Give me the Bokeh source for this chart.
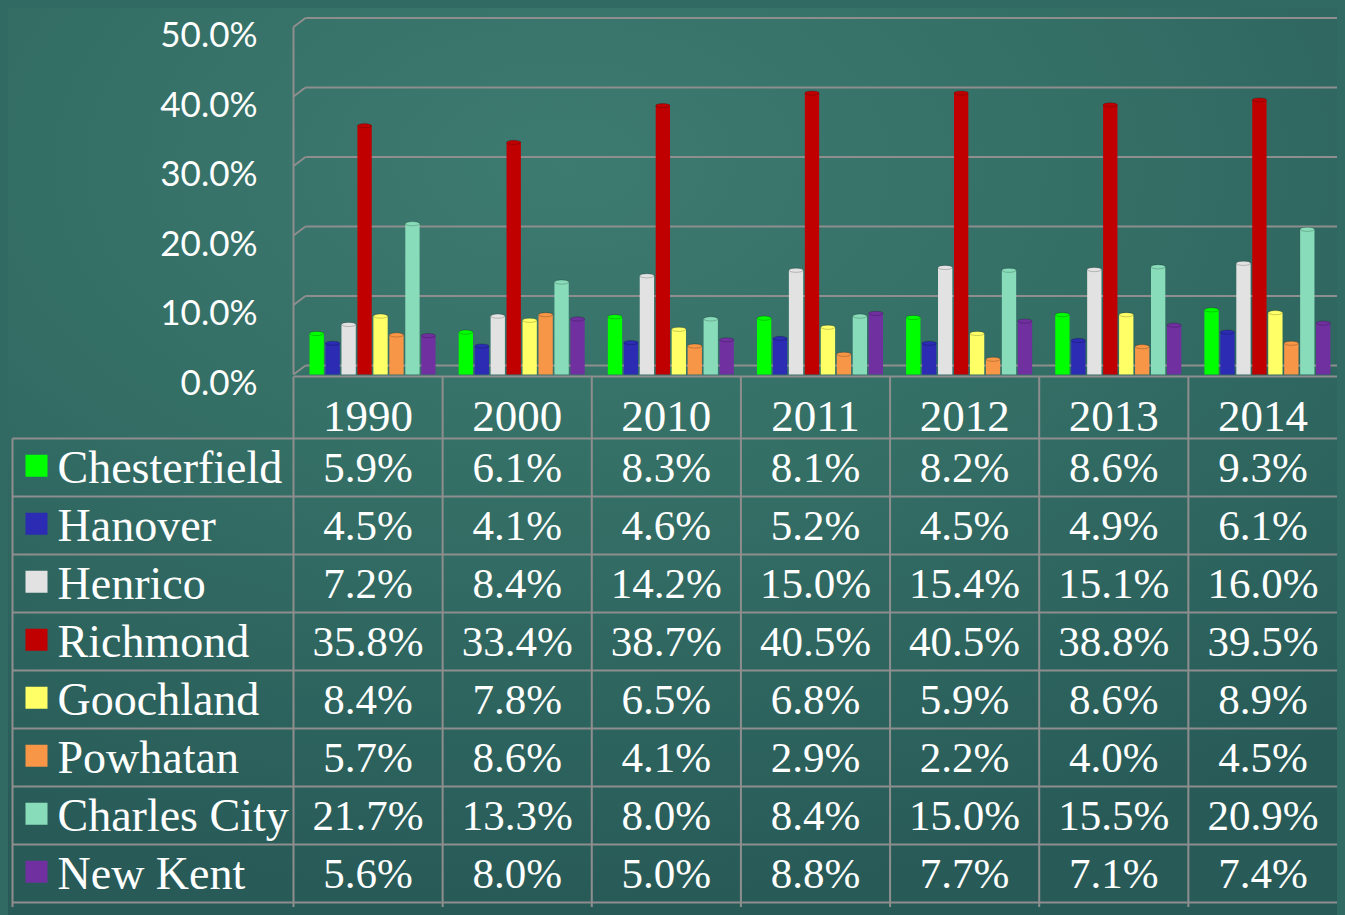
from bokeh.plotting import figure
from bokeh.models import ColumnDataSource, Range1d
from bokeh.transform import dodge
from bokeh.core.properties import value
from bokeh.embed import file_html
from bokeh.resources import INLINE

# ---------------- data ----------------
years = ["1990", "2000", "2010", "2011", "2012", "2013", "2014"]
counties = ["Chesterfield", "Hanover", "Henrico", "Richmond",
            "Goochland", "Powhatan", "Charles City", "New Kent"]
chesterfield = [5.9, 6.1, 8.3, 8.1, 8.2, 8.6, 9.3]
hanover      = [4.5, 4.1, 4.6, 5.2, 4.5, 4.9, 6.1]
henrico      = [7.2, 8.4, 14.2, 15.0, 15.4, 15.1, 16.0]
richmond     = [35.8, 33.4, 38.7, 40.5, 40.5, 38.8, 39.5]
goochland    = [8.4, 7.8, 6.5, 6.8, 5.9, 8.6, 8.9]
powhatan     = [5.7, 8.6, 4.1, 2.9, 2.2, 4.0, 4.5]
charles_city = [21.7, 13.3, 8.0, 8.4, 15.0, 15.5, 20.9]
new_kent     = [5.6, 8.0, 5.0, 8.8, 7.7, 7.1, 7.4]
series = [chesterfield, hanover, henrico, richmond, goochland, powhatan, charles_city, new_kent]
colors = ["#00ff00", "#2b2bb3", "#e2e2e2", "#c00000",
          "#ffff66", "#f79646", "#88dcb9", "#7030a0"]
tick_vals = [0, 10, 20, 30, 40, 50]
tick_labels = ["0.0%", "10.0%", "20.0%", "30.0%", "40.0%", "50.0%"]

# ---------------- layout constants ----------------
W, H = 1329, 899
left_px = 285                  # where the plot column starts
unit = (W - left_px) / 7.0     # px per year column
zero_px = 366                  # canvas y of 0%
ppp = 6.95                     # px per percent
header_top_px = 368
table_top_px = 430             # top of first data row
row_px = 58.0

p = figure(width=W, height=H, output_backend="svg", toolbar_location=None,
           x_range=Range1d(-left_px / unit, 7),
           y_range=Range1d(-(H - zero_px) / ppp, zero_px / ppp),
           min_border=0, min_border_left=0, min_border_right=0,
           min_border_top=0, min_border_bottom=0)
p.extra_y_ranges = {"table": Range1d((H - table_top_px) / row_px, -table_top_px / row_px)}
p.axis.visible = False
p.grid.visible = False
p.outline_line_color = None
p.background_fill_color = None
p.border_fill_color = None

grid_col = "#8e8e8e"
depth_x = 12 / unit
depth_y = 9 / ppp

# 3D-ish walls and gridlines
p.segment(x0=[depth_x] * len(tick_vals), x1=[7] * len(tick_vals),
          y0=[v + depth_y for v in tick_vals], y1=[v + depth_y for v in tick_vals],
          line_color=grid_col, line_width=2)
p.segment(x0=[0] * len(tick_vals), x1=[depth_x] * len(tick_vals),
          y0=tick_vals, y1=[v + depth_y for v in tick_vals],
          line_color=grid_col, line_width=2)
p.segment(x0=[0], x1=[0], y0=[0], y1=[max(tick_vals)], line_color=grid_col, line_width=2)

# y tick labels
p.text(x=[(249 - left_px) / unit] * len(tick_vals), y=tick_vals, text=tick_labels,
       text_font=value("Lato"), text_font_size="35px", text_color="white",
       text_align="right", text_baseline="middle", y_offset=6)

# bars
src = ColumnDataSource({"xc": [i + 0.5 for i in range(len(years))],
                        **{f"s{j}": s for j, s in enumerate(series)}})
pitch = 0.107
bw = 0.096
for j, c in enumerate(colors):
    off = (j - 3.5) * pitch + 0.03
    p.vbar(x=dodge("xc", off), top=f"s{j}", bottom=0, width=bw, source=src,
           fill_color=c, line_color=None)
    p.ellipse(x=dodge("xc", off), y=f"s{j}", width=bw, height=0.6, source=src,
              fill_color=c, line_color="#00000033", line_width=1)

# ---------------- table ----------------
n = len(counties)
ny = len(years)
name_left = (12 - 8 - left_px) / unit
header_top = -(table_top_px - header_top_px) / row_px

# horizontal lines
p.segment(x0=[0], x1=[7], y0=[header_top], y1=[header_top],
          line_color=grid_col, line_width=2, y_range_name="table")
p.segment(x0=[name_left] * (n + 1), x1=[7] * (n + 1),
          y0=list(range(n + 1)), y1=list(range(n + 1)),
          line_color=grid_col, line_width=2, y_range_name="table")
# vertical lines
p.segment(x0=[name_left], x1=[name_left], y0=[0], y1=[n + 1], line_color=grid_col,
          line_width=2, y_range_name="table")
p.segment(x0=list(range(ny)), x1=list(range(ny)), y0=[header_top] * ny, y1=[n + 1] * ny,
          line_color=grid_col, line_width=2, y_range_name="table")

# year headers
p.text(x=[i + 0.5 for i in range(ny)], y=[header_top / 2 + 0.15] * ny, text=years,
       text_font=value("Liberation Serif"), text_font_size="45px", text_color="white",
       text_align="center", text_baseline="middle", y_range_name="table")

# legend keys + names
p.scatter(x=[(28 - left_px) / unit] * n, y=[k + 0.47 for k in range(n)],
          marker="square", size=22, fill_color=colors, line_color=None,
          y_range_name="table")
p.text(x=[(57 - 8 - left_px) / unit] * n, y=[k + 0.5 for k in range(n)], text=counties,
       text_font=value("Liberation Serif"), text_font_size="46px", text_color="white",
       text_align="left", text_baseline="middle", y_range_name="table")

# values
vx, vy, vt = [], [], []
for k, s in enumerate(series):
    for i, v in enumerate(s):
        vx.append(i + 0.5)
        vy.append(k + 0.5)
        vt.append(f"{v:.1f}%")
p.text(x=vx, y=vy, text=vt, text_font=value("Liberation Serif"), text_font_size="43px",
       text_color="white", text_align="center", text_baseline="middle",
       y_range_name="table")

html = file_html(p, INLINE)
style = ("<style>html,body{margin:0;padding:0;min-height:100%;}"
         "html{background:#306a62;}"
         "body{margin:8px;background:radial-gradient(ellipse 90% 80% at 42% 18%, "
         "#3d7a70 0%, #346f66 45%, #285b58 100%) fixed;}</style>")
html = html.replace("</head>", style + "</head>", 1)
open("out.html", "w").write(html)
